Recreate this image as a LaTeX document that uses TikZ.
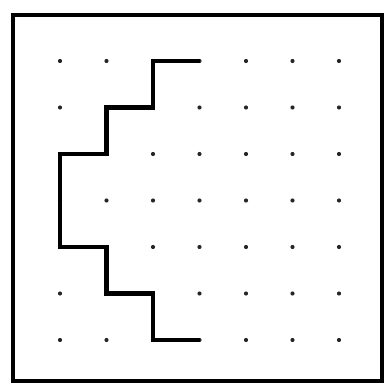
\documentclass[tikz,border=0pt]{standalone}
\usepackage{tikz}
\usetikzlibrary{positioning}

\begin{document}
\begin{tikzpicture}[
    x=1pt, y=-1pt,
    frame/.style={draw=black, line width=4pt},
    griddot/.style={fill=black!85},
    cutline/.style={draw=black, line width=4.6pt, line cap=butt, line join=miter}
]

\useasboundingbox (0,0) rectangle (389,385);

% outer frame
\draw[frame] (13,15) rectangle (382,381);

% dot grid
\foreach \i in {0,...,6} {
    \foreach \j in {0,...,6} {
        \coordinate (d-\i-\j) at ({60+46.5*\i},{61+46.5*\j});
        \fill[griddot] (d-\i-\j) circle (2.1);
    }
}

% staircase line
\draw[cutline] (d-3-0) -- (d-2-0) -- (d-2-1) -- (d-1-1) -- (d-1-2) -- (d-0-2)
    -- (d-0-4) -- (d-1-4) -- (d-1-5) -- (d-2-5) -- (d-2-6) -- (d-3-6);

\end{tikzpicture}
\end{document}
